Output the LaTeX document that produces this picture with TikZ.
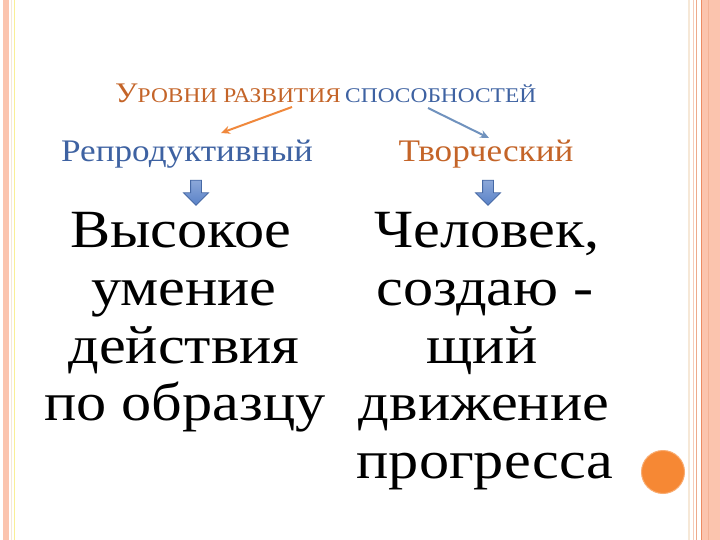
\documentclass[tikz,border=0pt]{standalone}
\usepackage{fontspec}
\setmainfont{Liberation Serif}[FakeStretch=1.12]
\usetikzlibrary{arrows.meta,shapes.arrows}
\definecolor{tOrange}{RGB}{196,100,40}
\definecolor{tBlue}{RGB}{62,98,162}
\definecolor{aOrange}{RGB}{240,136,60}
\definecolor{aBlue}{RGB}{112,146,190}
\definecolor{dBlue}{RGB}{90,130,200}
\definecolor{dBlueEdge}{RGB}{70,105,165}
\definecolor{stripe}{RGB}{251,196,174}
\definecolor{stripeLine}{RGB}{238,170,140}
\definecolor{stripeDark}{RGB}{236,140,100}
\definecolor{faint}{RGB}{246,232,215}
\definecolor{dot}{RGB}{246,136,52}
\tikzset{
  bigtext/.style={anchor=base, inner sep=0pt, font=\fontsize{54}{54}\selectfont},
  subtitle/.style={anchor=base, inner sep=0pt, font=\fontsize{31.5}{32}\selectfont},
  dnarrow/.style={single arrow, shape border rotate=270, draw=dBlueEdge, line width=0.8bp,
    top color=dBlue!70!white, bottom color=dBlue, inner sep=5bp,
    minimum height=25bp, single arrow head extend=7bp, single arrow head indent=0bp},
  conn/.style={-{Stealth[length=9bp,width=8bp]}, line width=2bp}
}
\begin{document}
\begin{tikzpicture}[x=1bp,y=-1bp]
\useasboundingbox (0,0) rectangle (720,540);
\fill[white] (0,0) rectangle (720,540);
% left border
\fill[stripe] (3,0) rectangle (9,540);
\draw[faint, line width=1bp] (11.5,0) -- (11.5,540);
\draw[faint!70!yellow, line width=0.6bp] (14,0) -- (14,540);
% right border
\draw[faint, line width=1.5bp] (689,0) -- (689,540);
\draw[stripeLine!60!white, line width=1.2bp] (693.5,0) -- (693.5,540);
\draw[stripeLine, line width=1bp] (696.5,0) -- (696.5,540);
\fill[stripe] (702,0) rectangle (720,540);
\draw[stripeDark, line width=1.2bp] (701.5,0) -- (701.5,540);
\draw[stripeLine!70!stripe, line width=0.8bp] (708,0) -- (708,540);
% title
\node[anchor=base west, inner sep=0pt, text=tOrange] (t1) at (115,103)
  {\fontsize{28.5}{29}\selectfont У\fontsize{21}{21}\selectfont РОВНИ РАЗВИТИЯ};
\node[anchor=base west, inner sep=0pt, text=tBlue, font=\fontsize{21}{21}\selectfont] (t2) at ([xshift=4bp]t1.base east) {СПОСОБНОСТЕЙ};
% subtitles
\node[subtitle, text=tBlue] (rep) at (187,162) {Репродуктивный};
\node[subtitle, text=tOrange] (tvor) at (486,162) {Творческий};
% connectors
\coordinate (s1) at (292,107);
\coordinate (s2) at (428,108);
\draw[conn, aOrange] (s1) -- (221,133);
\draw[conn, aBlue] (s2) -- (489,138);
% down arrows
\node[dnarrow] (d1) at (196,190) {};
\node[dnarrow] (d2) at (488,190) {};
% left column
\node[bigtext] (l1) at (181,248) {Высокое};
\node[bigtext] (l2) at (184,305.5) {умение};
\node[bigtext] (l3) at (184,363) {действия};
\node[bigtext] (l4) at (185,420.5) {по образцу};
% right column
\node[bigtext] (r1) at (487,248) {Человек,};
\node[bigtext] (r2) at (485,305.5) {создаю -};
\node[bigtext] (r3) at (482,363) {щий};
\node[bigtext] (r4) at (484,420.5) {движение};
\node[bigtext] (r5) at (485,478) {прогресса};
% orange dot
\node[circle, fill=dot, draw=dot!70!white, line width=1bp, minimum size=43bp, inner sep=0pt] (c) at (663,472) {};
\end{tikzpicture}
\end{document}
